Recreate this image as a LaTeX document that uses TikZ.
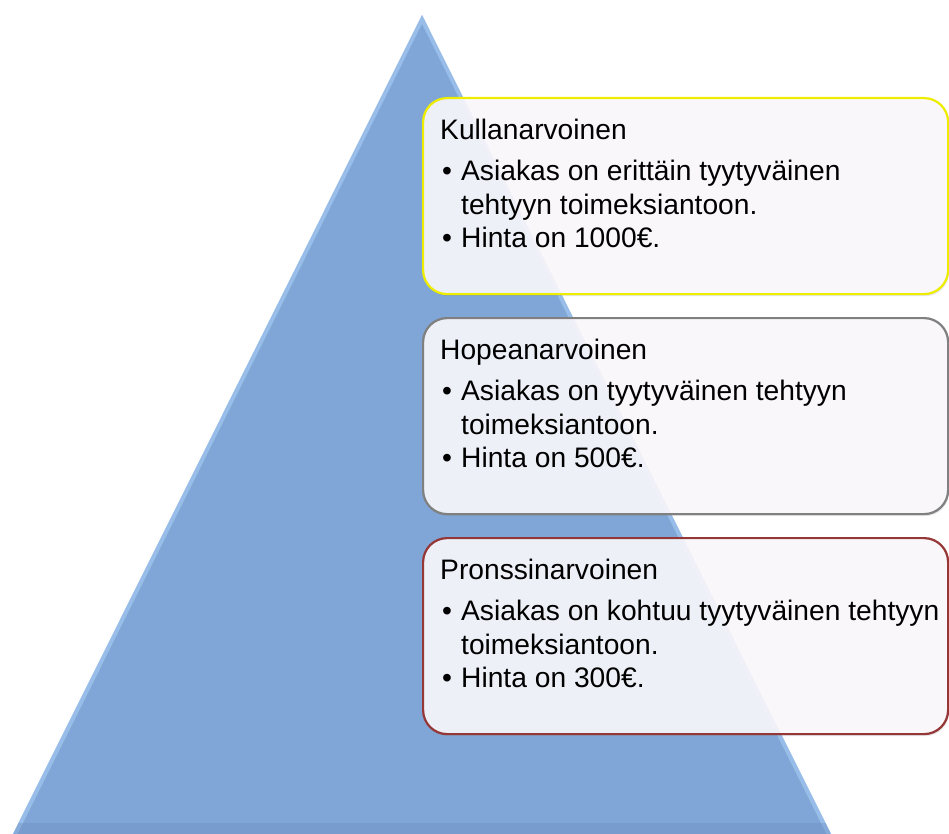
\documentclass[tikz,border=0pt]{standalone}
\usepackage{fontspec}
\setmainfont{Liberation Sans}
\usetikzlibrary{shadows}
\definecolor{pyrblue}{RGB}{127,166,214}
\definecolor{pyrlight}{RGB}{170,205,245}
\definecolor{pyrdark}{RGB}{105,140,190}
\definecolor{boxfill}{RGB}{251,249,253}
\definecolor{goldline}{RGB}{238,236,0}
\definecolor{silverline}{RGB}{128,128,128}
\definecolor{bronzeline}{RGB}{150,55,55}
\newcommand{\bul}{\makebox[21pt][l]{\hspace{2pt}•}}
\newcommand{\ind}{\hspace*{21pt}}
\begin{document}
\begin{tikzpicture}[
    x=1pt, y=-1pt,
    tier/.style={draw, line width=2.2pt, rounded corners=24pt, fill=boxfill, fill opacity=0.9,
      minimum width=525pt, minimum height=196pt, anchor=north west, inner sep=0pt,
      drop shadow={opacity=0.2, shadow xshift=1pt, shadow yshift=-2pt}},
    tiertext/.style={anchor=north west, align=left, inner sep=0pt,
      font=\fontsize{28.2}{33.5}\selectfont}
  ]
  \useasboundingbox (0,0) rectangle (949,834);
  \begin{scope}
    \clip (0,0) rectangle (949,834);
    \fill[pyrblue] (422,15) -- (13,834) -- (831,834) -- cycle;
    \begin{scope}
      \clip (422,15) -- (13,834) -- (831,834) -- cycle;
      \draw[pyrlight, line width=8pt, opacity=0.6] (13,834) -- (422,15) -- (831,834);
      \draw[pyrdark, line width=22pt, opacity=0.35] (13,834) -- (831,834);
    \end{scope}
  \end{scope}

  \node[tier, draw=goldline] (gold) at (422,97) {};
  \node[tier, draw=silverline] (silver) at (422,317) {};
  \node[tier, draw=bronzeline] (bronze) at (422,537) {};

  \node[tiertext] (goldtext) at (440,118.5) {Kullanarvoinen\\[8pt]
    \bul Asiakas on erittäin tyytyväinen\\
    \ind tehtyyn toimeksiantoon.\\
    \bul Hinta on 1000€.};
  \node[tiertext] (silvertext) at (440,338.5) {Hopeanarvoinen\\[8pt]
    \bul Asiakas on tyytyväinen tehtyyn\\
    \ind toimeksiantoon.\\
    \bul Hinta on 500€.};
  \node[tiertext] (bronzetext) at (440,558.5) {Pronssinarvoinen\\[8pt]
    \bul Asiakas on kohtuu tyytyväinen tehtyyn\\
    \ind toimeksiantoon.\\
    \bul Hinta on 300€.};
\end{tikzpicture}
\end{document}
